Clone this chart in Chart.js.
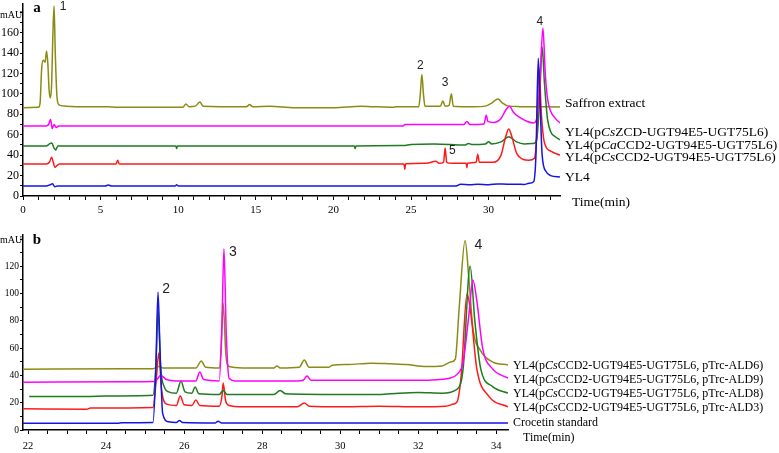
<!DOCTYPE html>
<html>
<head>
<meta charset="utf-8">
<script src="https://cdn.jsdelivr.net/npm/chart.js@4.4.0/dist/chart.umd.min.js"></script>
<style>
  body { margin: 0; background: #fff; }
  #wrap { position: relative; width: 779px; height: 453px; }
  canvas { position: absolute; left: 0; }
</style>
</head>
<body>
<div id="wrap">
  <canvas id="chartA" width="779" height="225" style="top:0"></canvas>
  <canvas id="chartB" width="779" height="228" style="top:225px"></canvas>
</div>
<script>
var serif = "'Liberation Serif', 'Times New Roman', serif";
var sans = "'Liberation Sans', Arial, sans-serif";

//panel a: [time (min), absorbance (mAU)], traces stacked with offsets
var saffronA = [[0,86.5],[1.0,87],[1.1,91],[1.2,124],[1.3,133],[1.42,131],[1.52,142],[1.6,130],[1.68,104],[1.76,96],[1.84,108],[1.93,160],[2.0,186],[2.08,140],[2.2,95],[2.35,89],[2.8,88],[4,87.5],[5.5,87.5],[6,87],[10.3,87],[10.5,90],[10.7,87.5],[11.1,88],[11.4,92],[11.6,88],[14.4,87.5],[14.6,89.5],[14.8,87.5],[15.9,88],[17.5,86.5],[20,86.5],[21.8,88],[22.5,87.5],[23.9,86.8],[24,87.3],[25.5,87.5],[25.6,100],[25.7,119],[25.8,100],[25.9,88],[26.9,88],[27.05,93],[27.2,88],[27.45,88.5],[27.6,100],[27.72,88],[29,87.5],[29.8,88],[30.2,91],[30.6,95],[30.9,91],[31.3,88],[32,87.5],[34.6,87.2]];
var zcdA = [[0,68.6],[1.5,68.6],[1.65,70],[1.78,75],[1.88,66],[2.0,70],[2.15,67],[2.3,68.6],[24.5,68.6],[24.6,70],[28.4,70],[28.6,73],[28.8,70],[29.7,70.5],[29.85,79],[29.95,73],[30.3,72],[30.8,76],[31.1,84],[31.35,88],[31.6,82],[32.0,77],[32.5,73],[32.9,71.5],[33.1,76],[33.3,110],[33.5,164.5],[33.65,120],[33.8,95],[34.0,83],[34.3,76],[34.6,71.5]];
var caccdA = [[0,49],[1.5,49],[1.7,51],[1.85,52],[2.0,47],[2.1,45],[2.25,49],[9.85,49],[9.9,46.5],[9.95,49],[21.35,49],[21.4,46.5],[21.45,49],[24.5,49.5],[25,50.5],[26.5,51],[28.5,50],[28.7,51.5],[28.9,50.5],[29.8,51],[30.0,53],[30.2,51],[30.8,53],[31.3,58],[31.8,53],[32.3,51],[32.9,51.5],[33.1,55],[33.3,100],[33.45,146],[33.6,110],[33.8,75],[34.0,63],[34.3,58],[34.6,55]];
var csccdA = [[0,31.3],[1.5,31.3],[1.7,33],[1.85,38],[1.95,33],[2.05,28],[2.2,30],[2.35,31.3],[6.0,31.3],[6.1,35],[6.2,31.3],[24.55,31.3],[24.6,26],[24.65,31.5],[26.0,32],[26.6,34],[26.8,32],[27.1,33],[27.2,47],[27.3,33],[27.6,32],[28.55,32],[28.6,28],[28.65,32],[29.2,33],[29.3,41],[29.4,33],[30.3,33],[30.8,40],[31.1,58],[31.3,65.5],[31.5,58],[31.8,42],[32.2,36],[32.6,35],[32.95,37],[33.1,60],[33.25,125],[33.4,80],[33.6,52],[34.0,44],[34.6,40]];
var yl4A = [[0,9.8],[1.5,9.8],[1.75,11],[1.9,12],[2.05,9],[2.2,9.8],[5.3,9.8],[5.5,10.8],[5.7,9.8],[9.8,9.8],[9.9,11],[10,9.8],[27.9,9.8],[28.2,11.5],[28.8,11],[29.3,11.5],[30,11],[30.6,11.8],[31.2,11.5],[31.8,11.6],[32.3,11.3],[32.6,12.5],[32.9,14],[33.05,40],[33.2,135],[33.32,90],[33.45,40],[33.7,24],[34.0,20],[34.6,18.6]];

//panel b
var ald6B = [[21.87,44.5],[24.5,45],[25.2,45],[25.35,46.5],[25.45,45.5],[26.3,45.5],[26.44,50.6],[26.55,46],[26.9,45.5],[26.95,60],[27.0,93],[27.07,55],[27.15,46.5],[27.5,45.5],[28.3,45.5],[28.38,47],[28.46,45.5],[28.95,46],[29.08,51.3],[29.2,46],[29.7,46],[29.8,47.5],[30.2,48],[30.8,49],[31.3,48.5],[31.7,48],[32.2,46.5],[32.6,47],[32.85,50],[32.95,52],[33.05,90],[33.2,139],[33.3,110],[33.4,75],[33.6,58],[33.9,50],[34.3,47.7]];
var ald9B = [[21.87,35],[24.5,35.3],[25.25,35.5],[25.4,40],[25.55,37],[25.8,36],[26.3,36],[26.4,42.5],[26.5,37],[26.9,36],[26.97,80],[27.02,133],[27.08,70],[27.15,38],[27.3,36],[28.9,36],[29.05,36.5],[29.15,39.6],[29.25,36.5],[30,36.5],[31,36.5],[32,36.5],[32.8,38],[33.0,41],[33.15,50],[33.3,85],[33.4,110],[33.5,95],[33.65,60],[33.9,45],[34.3,38]];
var ald8B = [[22.03,24.5],[23.5,24.5],[24.0,25],[25.2,25.5],[25.28,50],[25.33,88],[25.4,45],[25.5,31],[25.6,28],[25.8,27],[25.92,36],[26.02,28],[26.2,27],[26.28,31.5],[26.38,26.5],[26.9,26],[27.0,29],[27.1,26],[28.3,26],[28.46,29],[28.6,26.5],[30,26],[31,26],[31.5,27],[32,27.5],[32.6,27],[33.0,30],[33.15,45],[33.33,120],[33.45,80],[33.6,45],[33.9,32],[34.3,27]];
var ald3B = [[21.87,15.5],[23.5,15.2],[23.6,16.1],[25.2,16.5],[25.28,35],[25.35,56.5],[25.42,30],[25.55,19],[25.8,18],[25.9,25],[26.0,18.5],[26.2,18],[26.3,22],[26.4,18],[26.9,17.5],[26.97,25],[27.0,34.5],[27.06,22],[27.15,18],[27.5,17],[28.9,17],[29.08,19.8],[29.2,17.5],[30,17],[31,17.5],[32,17],[32.7,17.5],[32.9,19],[33.0,21],[33.1,40],[33.25,100],[33.35,85],[33.5,45],[33.8,25],[34.3,17]];
var crocetinB = [[21.87,5],[24.3,5],[24.4,5.3],[25.2,5.5],[25.27,40],[25.33,101],[25.38,60],[25.45,12],[25.6,6],[25.8,5.5],[25.88,7],[25.96,5.5],[26.8,5.2],[26.87,6.5],[26.95,5.2],[34.3,5.2]];

//trace names, [text, italic]
var namesA = [
  [['Saffron extract',0]],
  [['YL4(p',0],['Cs',1],['ZCD-UGT94E5-UGT75L6)',0]],
  [['YL4(p',0],['Ca',1],['CCD2-UGT94E5-UGT75L6)',0]],
  [['YL4(p',0],['Cs',1],['CCD2-UGT94E5-UGT75L6)',0]],
  [['YL4',0]]
];
var namesB = [
  [['YL4(p',0],['Cs',1],['CCD2-UGT94E5-UGT75L6, pTrc-ALD6)',0]],
  [['YL4(p',0],['Cs',1],['CCD2-UGT94E5-UGT75L6, pTrc-ALD9)',0]],
  [['YL4(p',0],['Cs',1],['CCD2-UGT94E5-UGT75L6, pTrc-ALD8)',0]],
  [['YL4(p',0],['Cs',1],['CCD2-UGT94E5-UGT75L6, pTrc-ALD3)',0]],
  [['Crocetin standard',0]]
];

//peak numbers [label, time, mAU]
var peaksA = [['1',2.58,185],['2',25.6,128],['3',27.2,111],['5',27.66,44.4],['4',33.3,171]];
var peaksB = [['2',25.54,103],['3',27.25,130.5],['4',33.54,135.6]];

var olive = '#8b8b14', magenta = '#ff00ff', green = '#1e7b1e', red = '#ff1a1a', blue = '#1414e6';

function toPts(arr) {
  return arr.map(function(p) { return {x: p[0], y: p[1]}; });
}
function trace(label, arr, color) {
  return {label: label, data: toPts(arr), borderColor: color, borderWidth: 1.5,
          pointRadius: 0, fill: false, cubicInterpolationMode: 'monotone'};
}

//draws the letters, unit, peak numbers and the names on the right
var panelText = {
  id: 'panelText',
  afterDraw: function(chart, args, o) {
    var c = chart.ctx, xs = chart.scales.x, ys = chart.scales.y;
    c.save();
    c.fillStyle = '#000';
    c.textBaseline = 'middle';
    c.textAlign = 'left';
    c.font = '10px ' + serif;
    c.fillText('mAU', 0, o.unitY);
    c.textAlign = 'center';
    c.font = 'bold 15px ' + serif;
    c.fillText(o.letter, 37, o.letterY);
    c.fillStyle = '#222';
    c.font = o.peakFont + 'px ' + sans;
    o.peaks.forEach(function(p) {
      c.fillText(p[0], xs.getPixelForValue(p[1]), ys.getPixelForValue(p[2]));
    });
    c.fillStyle = '#000';
    c.textAlign = 'left';
    o.names.forEach(function(segs, i) {
      var x = o.nameX;
      segs.forEach(function(s) {
        c.font = (s[1] ? 'italic ' : '') + o.nameFont + 'px ' + serif;
        c.fillText(s[0], x, o.nameY[i]);
        x += c.measureText(s[0]).width;
      });
    });
    c.font = o.nameFont + 'px ' + serif;
    c.fillText('Time(min)', o.timeX, o.timeY);
    c.restore();
  }
};

function panelOptions(cfg) {
  return {
    responsive: false,
    animation: false,
    layout: {padding: cfg.pad},
    elements: {line: {tension: 0}},
    plugins: {legend: {display: false}, tooltip: {enabled: false}, panelText: cfg.text},
    scales: {
      x: {
        type: 'linear', min: cfg.xmin, max: cfg.xmax,
        afterFit: function(s) { s.height = cfg.xh; s.paddingLeft = 0; s.paddingRight = 0; },
        border: {color: '#000', width: 1.5},
        grid: {drawOnChartArea: false, tickLength: 4, tickColor: '#000'},
        ticks: {stepSize: cfg.xstep, autoSkip: false, maxRotation: 0, includeBounds: false,
                color: '#000', padding: cfg.xpad, font: {family: serif, size: cfg.xfont},
                callback: function(v) { return v % cfg.xlabel === 0 ? v : ''; }}
      },
      y: {
        min: 0, max: cfg.ymax,
        afterFit: function(s) { s.width = 23; s.paddingTop = 0; s.paddingBottom = 0; },
        border: {color: '#000', width: 1.5},
        grid: {drawOnChartArea: false, tickLength: 3, tickColor: '#000'},
        ticks: {stepSize: 10, autoSkip: false, includeBounds: false, color: '#000', padding: 1,
                font: {family: serif, size: cfg.yfont},
                callback: function(v) { return (v % 20 === 0 && v <= cfg.ylast) ? v : ''; }}
      }
    }
  };
}

var chartA = new Chart(document.getElementById('chartA').getContext('2d'), {
  type: 'line',
  data: {datasets: [
    trace('YL4', yl4A, blue),
    trace('YL4(pCsCCD2-UGT94E5-UGT75L6)', csccdA, red),
    trace('YL4(pCsZCD-UGT94E5-UGT75L6)', zcdA, magenta),
    trace('YL4(pCaCCD2-UGT94E5-UGT75L6)', caccdA, green),
    trace('Saffron extract', saffronA, olive)
  ]},
  options: panelOptions({
    pad: {top: 4, bottom: 4, left: 0, right: 219},
    xmin: 0, xmax: 34.6, xh: 25, xstep: 1, xlabel: 5, xfont: 11, xpad: 4,
    ymax: 188, ylast: 160, yfont: 12,
    text: {letter: 'a', letterY: 8, unitY: 15, peaks: peaksA, peakFont: 12,
           names: namesA, nameX: 565, nameY: [103, 132, 145, 157, 177], nameFont: 13.5,
           timeX: 572, timeY: 202}
  }),
  plugins: [panelText]
});

var chartB = new Chart(document.getElementById('chartB').getContext('2d'), {
  type: 'line',
  data: {datasets: [
    trace('Crocetin standard', crocetinB, blue),
    trace('YL4(pCsCCD2-UGT94E5-UGT75L6, pTrc-ALD9)', ald9B, magenta),
    trace('YL4(pCsCCD2-UGT94E5-UGT75L6, pTrc-ALD8)', ald8B, green),
    trace('YL4(pCsCCD2-UGT94E5-UGT75L6, pTrc-ALD3)', ald3B, red),
    trace('YL4(pCsCCD2-UGT94E5-UGT75L6, pTrc-ALD6)', ald6B, olive)
  ]},
  options: panelOptions({
    pad: {top: 10, bottom: 3, left: 0, right: 271},
    xmin: 21.87, xmax: 34.3, xh: 20, xstep: 0.5, xlabel: 2, xfont: 10.5, xpad: 6,
    ymax: 143, ylast: 120, yfont: 9.5,
    text: {letter: 'b', letterY: 15, unitY: 15, peaks: peaksB, peakFont: 14,
           names: namesB, nameX: 513, nameY: [141, 155, 169, 183, 198], nameFont: 12,
           timeX: 523, timeY: 213}
  }),
  plugins: [panelText]
});
</script>
</body>
</html>
